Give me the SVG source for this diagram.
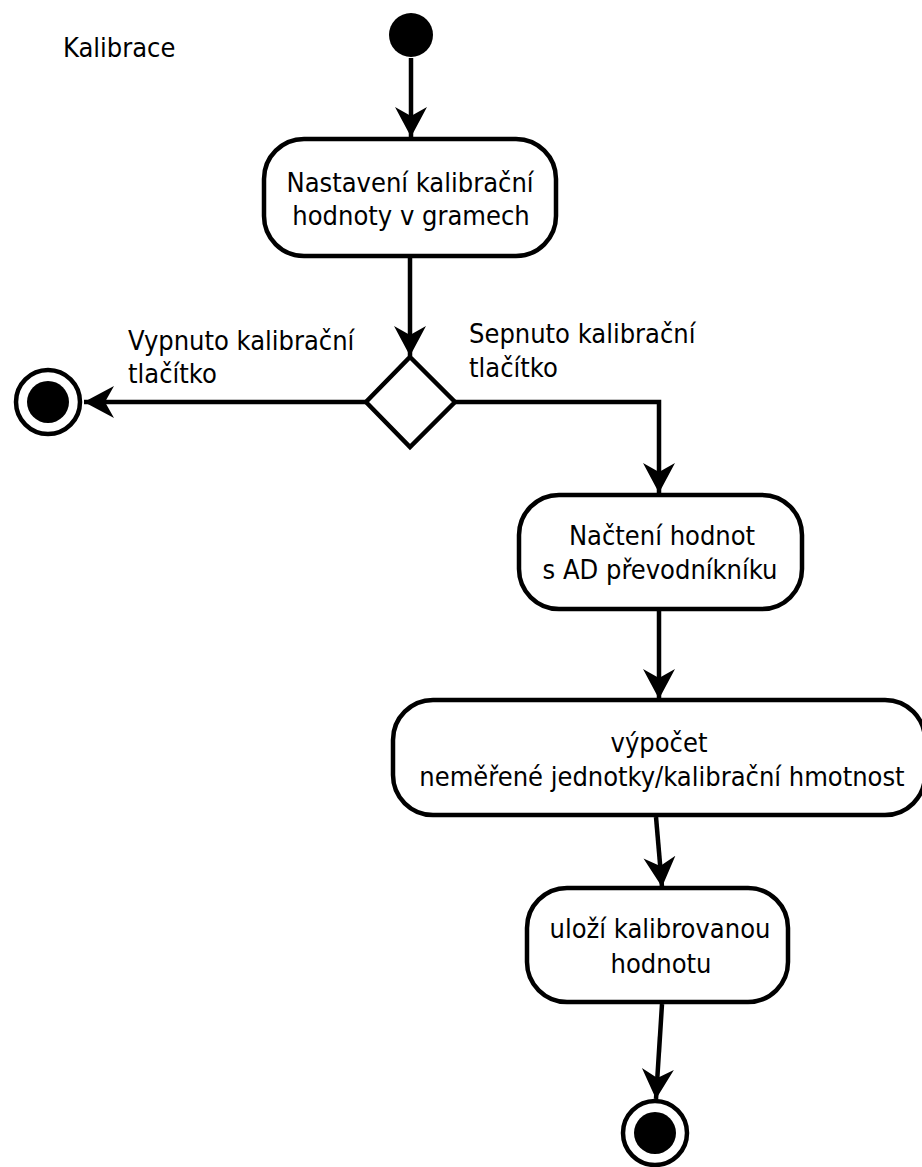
<svg xmlns="http://www.w3.org/2000/svg" width="922" height="1167" viewBox="0 0 922 1167">
  <style>
    .node { fill: #ffffff; stroke: #000000; stroke-width: 4.5; }
    .edge { fill: none; stroke: #000000; stroke-width: 4.5; }
    .lbl { font-family: "DejaVu Sans Condensed", "DejaVu Sans", sans-serif; font-size: 27px; fill: #000000; }
    .c { text-anchor: middle; }
  </style>
  <defs>
    <marker id="arrow" markerUnits="userSpaceOnUse" markerWidth="34" markerHeight="36" refX="30" refY="17" orient="auto" viewBox="0 0 34 34">
      <path d="M0,1 L30,17 L0,33 L9,17 Z" fill="#000000"/>
    </marker>
  </defs>
  <rect width="922" height="1167" fill="#ffffff"/>

  <text class="lbl" x="63" y="57">Kalibrace</text>

  <!-- connectors -->
  <g id="edges">
    <path class="edge" d="M411,58 L411,137" marker-end="url(#arrow)"/>
    <path class="edge" d="M410,258 L410,356" marker-end="url(#arrow)"/>
    <path class="edge" d="M366,402 L84,402" marker-end="url(#arrow)"/>
    <path class="edge" d="M455,402 L659,402 L659,493" marker-end="url(#arrow)"/>
    <path class="edge" d="M659,611 L659,699" marker-end="url(#arrow)"/>
    <path class="edge" d="M656,817 L662,887" marker-end="url(#arrow)"/>
    <path class="edge" d="M662,1004 L656,1099" marker-end="url(#arrow)"/>
    <text class="lbl" x="128" y="350">Vypnuto kalibrační</text>
    <text class="lbl" x="128" y="383">tlačítko</text>
    <text class="lbl" x="469" y="343">Sepnuto kalibrační</text>
    <text class="lbl" x="469" y="377">tlačítko</text>
  </g>

  <g id="start">
    <circle cx="411" cy="35" r="22" fill="#000000"/>
  </g>

  <g id="nastaveni">
    <rect class="node" x="264" y="139" width="292" height="117" rx="40" ry="40"/>
    <text class="lbl c" x="410" y="192">Nastavení kalibrační</text>
    <text class="lbl c" x="411" y="225">hodnoty v gramech</text>
  </g>

  <g id="decision">
    <polygon class="node" points="410,357 455,402 410,447 366,402"/>
  </g>

  <g id="end-left">
    <circle cx="48" cy="402" r="32" fill="#ffffff" stroke="#000000" stroke-width="4.5"/>
    <circle cx="48" cy="402" r="21" fill="#000000"/>
  </g>

  <g id="nacteni">
    <rect class="node" x="519" y="495" width="283" height="114" rx="40" ry="40"/>
    <text class="lbl c" x="662" y="545">Načtení hodnot</text>
    <text class="lbl c" x="660" y="579">s AD převodníkníku</text>
  </g>

  <g id="vypocet">
    <rect class="node" x="393" y="700" width="532" height="115" rx="40" ry="40"/>
    <text class="lbl c" x="659" y="752">výpočet</text>
    <text class="lbl c" x="662" y="786">neměřené jednotky/kalibrační hmotnost</text>
  </g>

  <g id="ulozi">
    <rect class="node" x="527" y="888" width="261" height="114" rx="40" ry="40"/>
    <text class="lbl c" x="660" y="938">uloží kalibrovanou</text>
    <text class="lbl c" x="661" y="973">hodnotu</text>
  </g>

  <g id="end-bottom">
    <circle cx="655" cy="1133" r="32" fill="#ffffff" stroke="#000000" stroke-width="4.5"/>
    <circle cx="655" cy="1133" r="21" fill="#000000"/>
  </g>
</svg>
